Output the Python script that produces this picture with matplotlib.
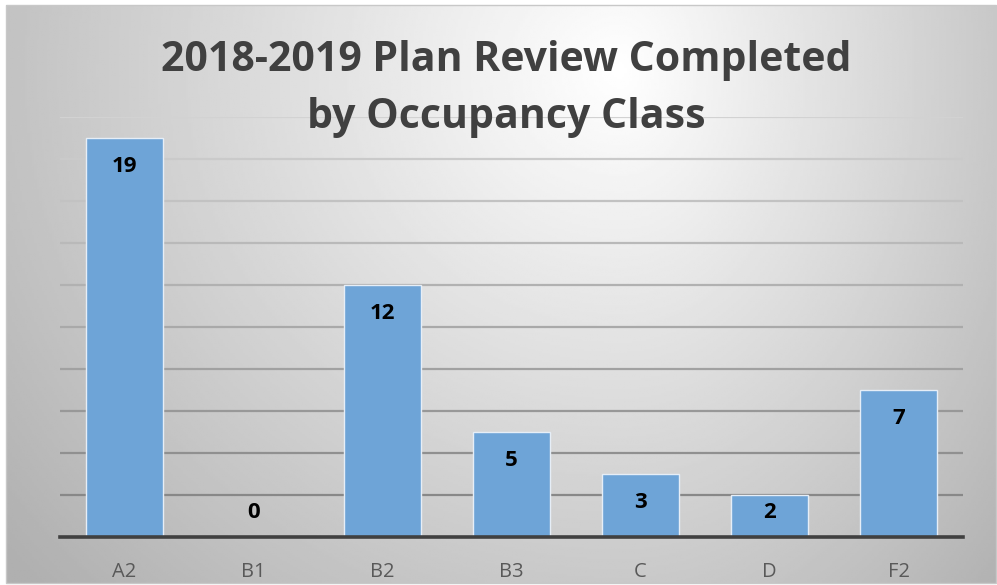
import numpy as np
import matplotlib
matplotlib.use("Agg")
import matplotlib.pyplot as plt
from matplotlib.patches import Rectangle

categories = ["A2", "B1", "B2", "B3", "C", "D", "F2"]
values = [19, 0, 12, 5, 3, 2, 7]
title = "2018-2019 Plan Review Completed\nby Occupancy Class"

W, H = 997, 585
fig = plt.figure(figsize=(W / 100, H / 100), dpi=100)
fig.patch.set_facecolor("white")

# background gradient
bg = fig.add_axes([6 / W, 2 / H, 990 / W, 578 / H], zorder=0)
xx, yy = np.meshgrid(np.linspace(6, 996, 400), np.linspace(5, 583, 300))
cx, cy = 620, 70
rx = np.where(xx < cx, 620, 420)
d = np.sqrt(((xx - cx) / rx) ** 2 + ((yy - cy) / 580) ** 2)
val = 1.0 - 0.24 * np.clip(d, 0, 1.3)
bg.imshow(val, cmap="gray", vmin=0, vmax=1, aspect="auto", extent=[0, 1, 0, 1], origin="upper")
bg.set_xlim(0, 1); bg.set_ylim(0, 1)
bg.axis("off")
fig.add_artist(Rectangle((6 / W, 2 / H), 990 / W, 578 / H, transform=fig.transFigure,
                         fill=False, edgecolor="#c8c8c8", linewidth=1, zorder=1))

ax = fig.add_axes([60 / W, (H - 537) / H, 903 / W, (537 - 117) / H], zorder=2)
ax.patch.set_alpha(0)
x = np.arange(len(categories))
ax.set_xlim(-0.5, len(categories) - 0.5)
ax.set_ylim(0, 20)

for g in range(2, 21, 2):
    t = (g - 2) / 18
    c = 0x88 + t * (0xd2 - 0x88)
    ax.axhline(g, color=(c / 255, c / 255, c / 255), linewidth=1.6, zorder=1)

ax.bar(x, values, width=0.6, color="#6ea4d7", edgecolor="#e6eef7", linewidth=1.0, zorder=2)

for xi, v in zip(x, values):
    ly = max(v - 1.38, 1.15)
    ax.text(xi, ly, str(v), ha="center", va="center", fontsize=16, fontweight="bold",
            family="Open Sans", color="black", zorder=3)

for s in ["top", "right", "left"]:
    ax.spines[s].set_visible(False)
ax.spines["bottom"].set_color("#404040")
ax.spines["bottom"].set_linewidth(2.6)
ax.spines["bottom"].set_zorder(4)
ax.set_yticks([])
ax.set_xticks(x)
ax.set_xticklabels(categories, family="Open Sans", fontsize=14.5, color="#595959")
ax.tick_params(axis="x", length=0, pad=18)

fig.text(506 / W, 1 - 89 / H, title, ha="center", va="center", fontsize=29.5, fontweight="bold",
         family="Open Sans", color="#404040", linespacing=1.52, zorder=5)

fig.savefig("out.png", dpi=100)
